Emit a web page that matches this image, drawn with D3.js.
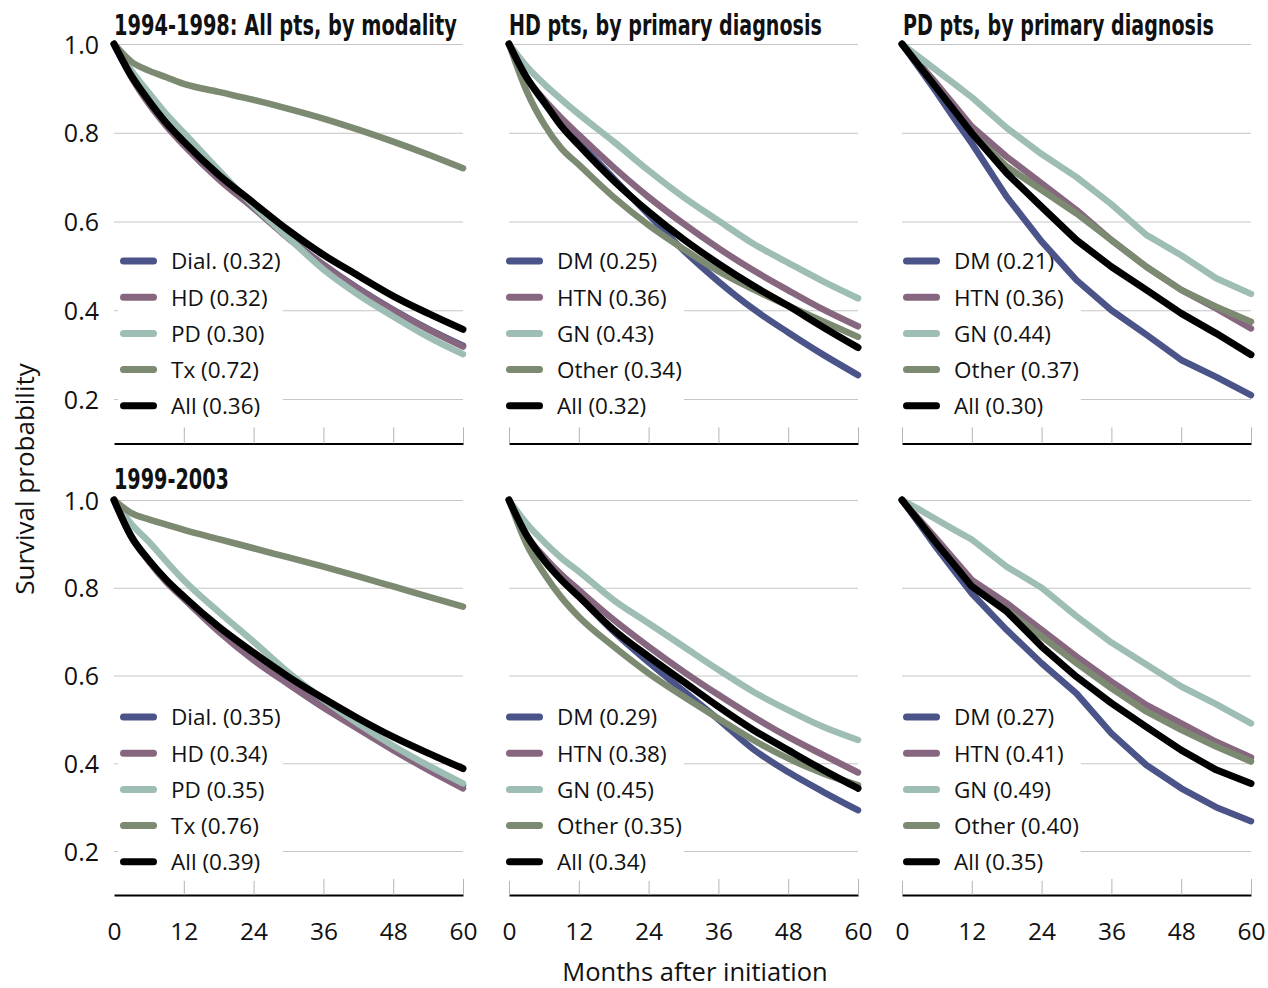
<!DOCTYPE html>
<html><head><meta charset="utf-8">
<script src="https://cdn.jsdelivr.net/npm/d3@7"></script>
<style>body{margin:0;background:#fff}svg{display:block}</style>
</head><body>
<svg id="chart" width="1268" height="988"></svg>
<script>
// ---------- data ----------
const months = [0, 3, 6, 9, 12, 18, 24, 30, 36, 42, 48, 54, 60];
const xTicks = [0, 12, 24, 36, 48, 60];
const yTicks = [0.2, 0.4, 0.6, 0.8, 1.0];

const panelTitles = ["1994-1998: All pts, by modality", "HD pts, by primary diagnosis", "PD pts, by primary diagnosis", "1999-2003", "", ""];

// 1994-1998, all patients by modality
const dial94 = [1.0, 0.926, 0.867, 0.817, 0.774, 0.697, 0.631, 0.563, 0.503, 0.449, 0.401, 0.358, 0.320];
const hd94   = [1.0, 0.925, 0.865, 0.815, 0.772, 0.695, 0.630, 0.562, 0.502, 0.448, 0.400, 0.357, 0.318];
const pd94   = [1.0, 0.940, 0.890, 0.842, 0.800, 0.716, 0.635, 0.563, 0.492, 0.435, 0.386, 0.340, 0.301];
const tx94   = [1.0, 0.960, 0.940, 0.925, 0.910, 0.892, 0.874, 0.854, 0.832, 0.807, 0.780, 0.751, 0.720];
const all94  = [1.0, 0.928, 0.872, 0.822, 0.780, 0.705, 0.642, 0.580, 0.525, 0.478, 0.432, 0.393, 0.357];
const labels94mod = ["Dial. (0.32)", "HD (0.32)", "PD (0.30)", "Tx (0.72)", "All (0.36)"];

// 1994-1998, HD patients by primary diagnosis
const dmHD94    = [1.0, 0.925, 0.868, 0.820, 0.778, 0.697, 0.615, 0.535, 0.465, 0.403, 0.350, 0.300, 0.254];
const htnHD94   = [1.0, 0.925, 0.875, 0.833, 0.795, 0.722, 0.655, 0.595, 0.540, 0.490, 0.445, 0.402, 0.364];
const gnHD94    = [1.0, 0.950, 0.910, 0.875, 0.842, 0.780, 0.715, 0.655, 0.602, 0.550, 0.507, 0.465, 0.427];
const otherHD94 = [1.0, 0.895, 0.820, 0.765, 0.728, 0.655, 0.592, 0.538, 0.488, 0.447, 0.410, 0.375, 0.340];
const allHD94   = [1.0, 0.925, 0.870, 0.815, 0.772, 0.692, 0.622, 0.560, 0.505, 0.455, 0.410, 0.362, 0.316];
const labelsHD94 = ["DM (0.25)", "HTN (0.36)", "GN (0.43)", "Other (0.34)", "All (0.32)"];

// 1994-1998, PD patients by primary diagnosis
const dmPD94    = [1.0, 0.945, 0.890, 0.832, 0.776, 0.656, 0.555, 0.468, 0.400, 0.345, 0.288, 0.250, 0.209];
const htnPD94   = [1.0, 0.955, 0.910, 0.862, 0.814, 0.746, 0.686, 0.626, 0.558, 0.498, 0.446, 0.404, 0.359];
const gnPD94    = [1.0, 0.970, 0.940, 0.910, 0.880, 0.811, 0.752, 0.700, 0.639, 0.570, 0.524, 0.472, 0.437];
const otherPD94 = [1.0, 0.950, 0.900, 0.850, 0.800, 0.724, 0.671, 0.618, 0.558, 0.498, 0.446, 0.408, 0.374];
const allPD94   = [1.0, 0.950, 0.900, 0.850, 0.799, 0.709, 0.633, 0.558, 0.498, 0.446, 0.393, 0.348, 0.300];
const labelsPD94 = ["DM (0.21)", "HTN (0.36)", "GN (0.44)", "Other (0.37)", "All (0.30)"];

// 1999-2003, all patients by modality
const dial99 = [1.0, 0.917, 0.862, 0.815, 0.776, 0.703, 0.638, 0.582, 0.528, 0.480, 0.433, 0.390, 0.350];
const hd99   = [1.0, 0.915, 0.860, 0.813, 0.775, 0.700, 0.635, 0.580, 0.527, 0.478, 0.430, 0.385, 0.343];
const pd99   = [1.0, 0.945, 0.905, 0.860, 0.817, 0.745, 0.677, 0.607, 0.545, 0.490, 0.440, 0.395, 0.354];
const tx99   = [1.0, 0.970, 0.956, 0.944, 0.932, 0.911, 0.890, 0.869, 0.848, 0.826, 0.803, 0.780, 0.757];
const all99  = [1.0, 0.916, 0.863, 0.818, 0.780, 0.711, 0.652, 0.597, 0.548, 0.502, 0.460, 0.423, 0.388];
const labels99mod = ["Dial. (0.35)", "HD (0.34)", "PD (0.35)", "Tx (0.76)", "All (0.39)"];

// 1999-2003, HD patients by primary diagnosis
const dmHD99    = [1.0, 0.920, 0.865, 0.820, 0.780, 0.700, 0.630, 0.565, 0.500, 0.432, 0.380, 0.335, 0.293];
const htnHD99   = [1.0, 0.920, 0.871, 0.830, 0.795, 0.727, 0.666, 0.609, 0.556, 0.506, 0.460, 0.419, 0.379];
const gnHD99    = [1.0, 0.947, 0.905, 0.868, 0.837, 0.772, 0.719, 0.666, 0.613, 0.563, 0.521, 0.483, 0.453];
const otherHD99 = [1.0, 0.900, 0.833, 0.778, 0.734, 0.666, 0.605, 0.552, 0.502, 0.453, 0.411, 0.377, 0.350];
const allHD99   = [1.0, 0.920, 0.863, 0.818, 0.780, 0.704, 0.643, 0.586, 0.529, 0.476, 0.430, 0.385, 0.343];
const labelsHD99 = ["DM (0.29)", "HTN (0.38)", "GN (0.45)", "Other (0.35)", "All (0.34)"];

// 1999-2003, PD patients by primary diagnosis
const dmPD99    = [1.0, 0.945, 0.890, 0.838, 0.787, 0.704, 0.628, 0.559, 0.468, 0.396, 0.343, 0.300, 0.268];
const htnPD99   = [1.0, 0.955, 0.910, 0.864, 0.818, 0.765, 0.704, 0.643, 0.586, 0.533, 0.491, 0.449, 0.413];
const gnPD99    = [1.0, 0.978, 0.955, 0.932, 0.910, 0.848, 0.800, 0.735, 0.675, 0.625, 0.575, 0.535, 0.491];
const otherPD99 = [1.0, 0.950, 0.900, 0.852, 0.803, 0.749, 0.689, 0.628, 0.571, 0.518, 0.476, 0.438, 0.404];
const allPD99   = [1.0, 0.950, 0.900, 0.852, 0.803, 0.746, 0.666, 0.597, 0.537, 0.483, 0.430, 0.385, 0.354];
const labelsPD99 = ["DM (0.27)", "HTN (0.41)", "GN (0.49)", "Other (0.40)", "All (0.35)"];

const seriesColors = ["#4a5488", "#86677f", "#9dbdb5", "#7d8a72", "#000000"];

// ---------- layout ----------
const colX = [114, 509, 902];
const panelW = 349;
const rowY = [[44, 443.4], [500, 894.9]];
const legendDx = [6, -3, 1];
const FONT = "'Open Sans', 'Noto Sans', sans-serif";
const TITLE_FONT = "'Liberation Sans Narrow', 'DejaVu Sans Condensed', 'Open Sans', sans-serif";

const panels = [
  {row: 0, col: 0, values: [dial94, hd94, pd94, tx94, all94], labels: labels94mod, smooth: true},
  {row: 0, col: 1, values: [dmHD94, htnHD94, gnHD94, otherHD94, allHD94], labels: labelsHD94, smooth: true},
  {row: 0, col: 2, values: [dmPD94, htnPD94, gnPD94, otherPD94, allPD94], labels: labelsPD94, smooth: false},
  {row: 1, col: 0, values: [dial99, hd99, pd99, tx99, all99], labels: labels99mod, smooth: true},
  {row: 1, col: 1, values: [dmHD99, htnHD99, gnHD99, otherHD99, allHD99], labels: labelsHD99, smooth: true},
  {row: 1, col: 2, values: [dmPD99, htnPD99, gnPD99, otherPD99, allPD99], labels: labelsPD99, smooth: false}
];

const svg = d3.select("#chart");
const titleWidths = [343, 313, 311, 115];

panels.forEach((p, pi) => {
  const x0 = colX[p.col];
  const [yTop, yBot] = rowY[p.row];
  const x = d3.scaleLinear().domain([0, 60]).range([x0, x0 + panelW]);
  const y = d3.scaleLinear().domain([0.1, 1.0]).range([yBot, yTop]);
  const g = svg.append("g");

  // gridlines
  const grid = g.append("g").attr("transform", `translate(${x0},0)`)
    .call(d3.axisLeft(y).tickValues(yTicks).tickSize(-panelW).tickFormat(""));
  grid.select(".domain").remove();
  grid.selectAll(".tick line").attr("stroke", "#c6c6c6").attr("stroke-width", 1);

  // y tick labels (left column only)
  if (p.col === 0) {
    const ya = g.append("g").attr("transform", `translate(${x0},0)`)
      .call(d3.axisLeft(y).tickValues(yTicks).tickSize(0).tickPadding(15).tickFormat(d3.format(".1f")));
    ya.select(".domain").remove();
    ya.selectAll("text").attr("font-family", FONT).attr("font-size", 25).attr("fill", "#111").attr("dy", "0.36em");
  }

  // x axis
  const xa = g.append("g").attr("transform", `translate(0,${yBot})`)
    .call(d3.axisBottom(x).tickValues(xTicks).tickSizeInner(-16).tickSizeOuter(0).tickPadding(28)
      .tickFormat(p.row === 1 ? d3.format("d") : ""));
  xa.select(".domain").attr("stroke", "#000").attr("stroke-width", 2);
  xa.selectAll(".tick line").attr("stroke", "#b5b5b5").attr("stroke-width", 1);
  if (p.col === 0) xa.selectAll(".tick").filter(d => d === 0).select("line").remove();
  xa.selectAll("text").attr("font-family", FONT).attr("font-size", 24.5).attr("fill", "#111");

  // title (condensed horizontally to the reference width)
  if (panelTitles[pi]) {
    const baseY = p.row === 0 ? 35 : 489;
    const tx = x0 + (p.col === 2 ? 1 : 0);
    const t = g.append("text").attr("x", 0).attr("y", 0)
      .attr("font-family", TITLE_FONT).attr("font-weight", "bold").attr("font-size", 28)
      .attr("fill", "#111").text(panelTitles[pi]);
    const natural = t.node().getComputedTextLength();
    const sx = titleWidths[pi] / natural;
    t.attr("transform", `translate(${tx},${baseY}) scale(${sx},1)`);
  }

  // legend
  const lx = x0 + legendDx[p.col];
  const ly0 = yTop + 217;
  const step = 36.2;
  const legBg = g.append("rect").attr("fill", "#fff");
  const leg = g.append("g");
  let maxEnd = 0;
  p.labels.forEach((lab, i) => {
    const cy = ly0 + i * step;
    leg.append("line").attr("x1", lx + 3.5).attr("x2", lx + 33.5).attr("y1", cy).attr("y2", cy)
      .attr("stroke", seriesColors[i]).attr("stroke-width", 7).attr("stroke-linecap", "round");
    const t = leg.append("text").attr("x", lx + 51).attr("y", cy).attr("dy", "0.37em")
      .attr("font-family", FONT).attr("font-size", 22.5).attr("fill", "#111").text(lab);
    maxEnd = Math.max(maxEnd, lx + 51 + t.node().getComputedTextLength());
  });
  legBg.attr("x", lx - 2).attr("y", ly0 - 19).attr("width", maxEnd - lx + 4).attr("height", step * 4 + 38);

  // curves
  const line = d3.line().x((d, i) => x(months[i])).y(d => y(d))
    .curve(p.smooth ? d3.curveMonotoneX : d3.curveLinear);
  p.values.forEach((vals, i) => {
    g.append("path").attr("d", line(vals)).attr("fill", "none")
      .attr("stroke", seriesColors[i]).attr("stroke-width", i === 4 ? 7 : 6.5)
      .attr("stroke-linecap", "round").attr("stroke-linejoin", "round");
  });
});

// axis titles
svg.append("text").attr("transform", "translate(34,479) rotate(-90)").attr("text-anchor", "middle")
  .attr("font-family", FONT).attr("font-size", 26).attr("fill", "#111").text("Survival probability");
svg.append("text").attr("x", 695).attr("y", 981).attr("text-anchor", "middle")
  .attr("font-family", FONT).attr("font-size", 25.5).attr("fill", "#111").text("Months after initiation");
</script>
</body></html>
